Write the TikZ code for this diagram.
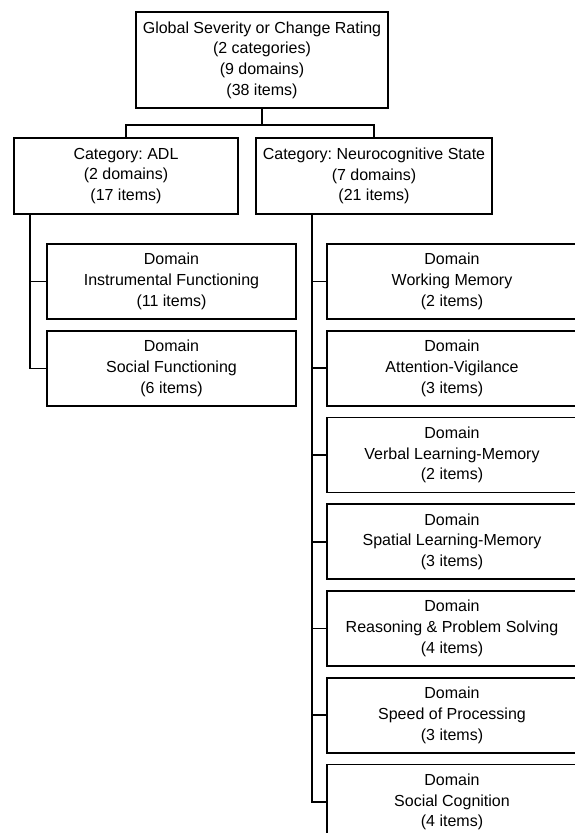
\documentclass[tikz,border=0pt]{standalone}
\usepackage{fontspec}
\setmainfont{Liberation Sans}
\usetikzlibrary{positioning}
\frenchspacing

\tikzstyle{every node}=[font=\fontsize{16}{20.7}\selectfont]
\tikzstyle{rating}=[rectangle, draw=black, line width=1.8pt, align=center, inner sep=2pt]
\tikzstyle{category}=[rating, minimum height=76pt]
\tikzstyle{domainbox}=[rating, minimum height=75pt]
\tikzstyle{branch}=[draw=black, line width=1.8pt]

\begin{document}
\begin{tikzpicture}[x=1pt, y=-1pt]

		\useasboundingbox[fill=white] (0, 0) rectangle (575, 833);

		\node[rating, minimum width=252pt, minimum height=96pt] at (262, 60) (global) {Global Severity or Change Rating\\(2 categories)\\(9 domains)\\(38 items)};

		\node[category, minimum width=224pt] at (126, 176) (adl) {Category: ADL\\(2 domains)\\(17 items)};

		\node[category, minimum width=236pt] at (374, 176) (neuro) {Category: Neurocognitive State\\(7 domains)\\(21 items)};

		\node[domainbox, minimum width=249pt] at (171.5, 281.5) (instr) {Domain\\Instrumental Functioning\\(11 items)};
		\node[domainbox, minimum width=249pt] at (171.5, 368.5) (socfun) {Domain\\Social Functioning\\(6 items)};

		\node[domainbox, minimum width=250pt] at (452, 281.5) (wm) {Domain\\Working Memory\\(2 items)};
		\node[domainbox, minimum width=250pt] at (452, 368.25) (av) {Domain\\Attention-Vigilance\\(3 items)};
		\node[domainbox, minimum width=250pt] at (452, 455) (vlm) {Domain\\Verbal Learning-Memory\\(2 items)};
		\node[domainbox, minimum width=250pt] at (452, 541.75) (slm) {Domain\\Spatial Learning-Memory\\(3 items)};
		\node[domainbox, minimum width=250pt] at (452, 628.5) (rps) {Domain\\Reasoning \& Problem Solving\\(4 items)};
		\node[domainbox, minimum width=250pt] at (452, 715.25) (sop) {Domain\\Speed of Processing\\(3 items)};
		\node[domainbox, minimum width=250pt] at (452, 802) (soccog) {Domain\\Social Cognition\\(4 items)};

		\coordinate (adlroot) at (30, 214);
		\coordinate (neuroroot) at (312, 214);

		\path[branch] (global.south) -- ++(0, 16) -| (adl.north);
		\path[branch] (global.south) -- ++(0, 16) -| (neuro.north);
		\foreach \d in {instr, socfun}
			\path[branch] (adlroot) |- (\d.west);
		\foreach \d in {wm, av, vlm, slm, rps, sop, soccog}
			\path[branch] (neuroroot) |- (\d.west);

\end{tikzpicture}
\end{document}
